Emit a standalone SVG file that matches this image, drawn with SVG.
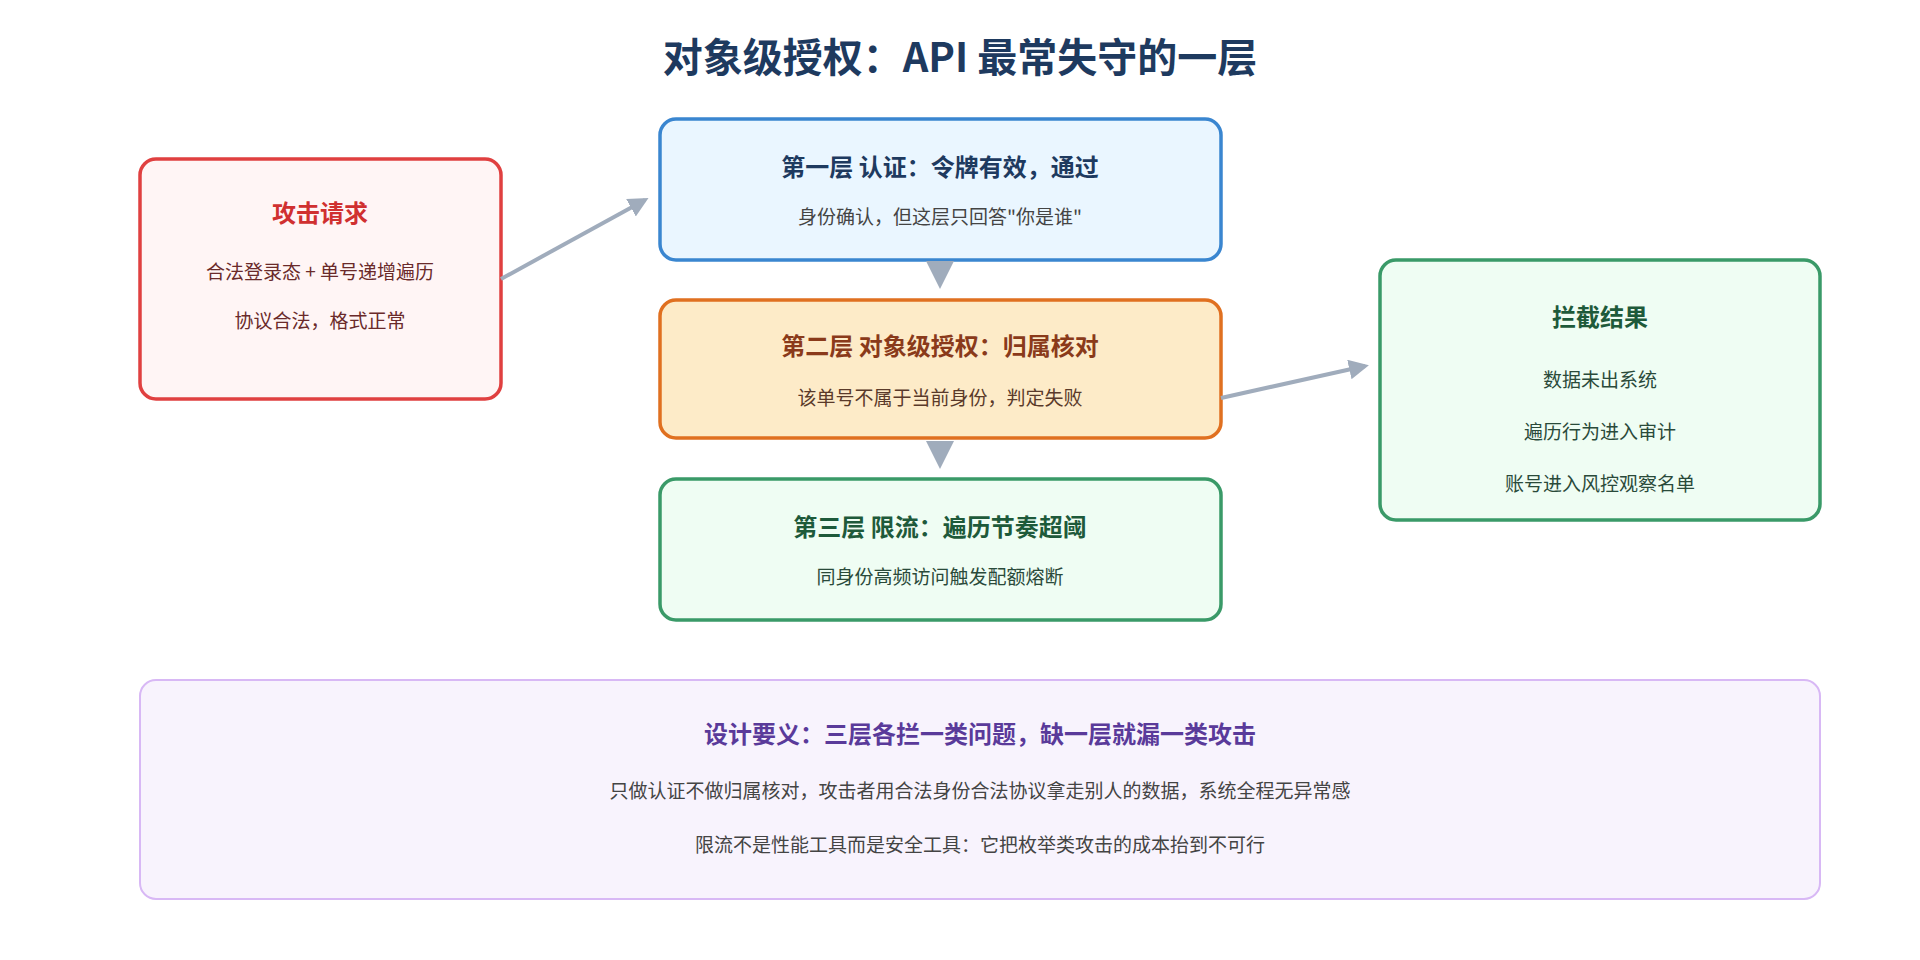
<svg xmlns="http://www.w3.org/2000/svg" width="1920" height="960" viewBox="0 0 1920 960">
<style>
text{font-family:"Noto Sans CJK SC","Noto Sans",sans-serif;text-anchor:middle}
.t{font-size:24px;font-weight:bold}
.s{font-size:19px}
.box{stroke-width:3.5}
</style>
<defs>
<marker id="ah" viewBox="0 0 10 10" refX="8" refY="5" markerWidth="5" markerHeight="5" orient="auto"><path d="M0,0L10,5L0,10z" fill="#a0acbc"/></marker>
</defs>
<rect width="1920" height="960" fill="#fff"/>
<text x="960" y="72" font-size="40" font-weight="bold" fill="#1e3a5f">对象级授权：API 最常失守的一层</text>
<g id="attack">
<rect class="box" x="140" y="159" width="361" height="240" rx="16" fill="#fff5f5" stroke="#e04040"/>
<text class="t" x="320" y="222" fill="#d03030">攻击请求</text>
<text class="s" x="320" y="279" fill="#6a2a2a">合法登录态 + 单号递增遍历</text>
<text class="s" x="320" y="328" fill="#6a2a2a">协议合法，格式正常</text>
</g>
<g id="layer1">
<rect class="box" x="660" y="119" width="561" height="141" rx="16" fill="#eaf6ff" stroke="#3a86d0"/>
<text class="t" x="940" y="176" fill="#1e3a5f">第一层 认证：令牌有效，通过</text>
<text class="s" x="940" y="224" fill="#444">身份确认，但这层只回答"你是谁"</text>
</g>
<g id="layer2">
<rect class="box" x="660" y="300" width="561" height="138" rx="16" fill="#fdebc8" stroke="#e07020"/>
<text class="t" x="940" y="355" fill="#8a3a1a">第二层 对象级授权：归属核对</text>
<text class="s" x="940" y="405" fill="#5a3a2a">该单号不属于当前身份，判定失败</text>
</g>
<g id="layer3">
<rect class="box" x="660" y="479" width="561" height="141" rx="16" fill="#effdf3" stroke="#3a9a68"/>
<text class="t" x="940" y="536" fill="#1e5a3a">第三层 限流：遍历节奏超阈</text>
<text class="s" x="940" y="584" fill="#2a4a3a">同身份高频访问触发配额熔断</text>
</g>
<g id="result">
<rect class="box" x="1380" y="260" width="440" height="260" rx="16" fill="#effdf3" stroke="#3a9a68"/>
<text class="t" x="1600" y="326" fill="#1e5a3a">拦截结果</text>
<text class="s" x="1600" y="387" fill="#2a4a3a">数据未出系统</text>
<text class="s" x="1600" y="439" fill="#2a4a3a">遍历行为进入审计</text>
<text class="s" x="1600" y="491" fill="#2a4a3a">账号进入风控观察名单</text>
</g>
<g id="note">
<rect x="140" y="680" width="1680" height="219" rx="16" fill="#f8f3fd" stroke="#d8b8f5" stroke-width="2"/>
<text class="t" x="980" y="743" fill="#5a3a9a">设计要义：三层各拦一类问题，缺一层就漏一类攻击</text>
<text class="s" x="980" y="798" fill="#444">只做认证不做归属核对，攻击者用合法身份合法协议拿走别人的数据，系统全程无异常感</text>
<text class="s" x="980" y="852" fill="#444">限流不是性能工具而是安全工具：它把枚举类攻击的成本抬到不可行</text>
</g>
<g id="connectors" stroke="#a0acbc" stroke-width="4" fill="none">
<line x1="501" y1="279" x2="645" y2="200" marker-end="url(#ah)"/>
<line x1="1221" y1="398" x2="1365" y2="366" marker-end="url(#ah)"/>
<path d="M926,261L954,261L940,289z" fill="#a0acbc" stroke="none"/>
<path d="M926,441L954,441L940,469z" fill="#a0acbc" stroke="none"/>
</g>
</svg>
